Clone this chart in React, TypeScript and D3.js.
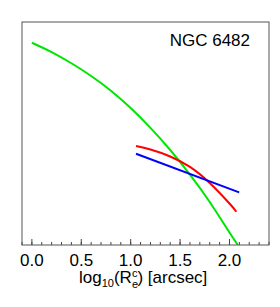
import React from "react";
import * as d3 from "d3";

// y is in arbitrary units (no y axis labels)
const greenX = [0.0, 0.2, 0.4, 0.6, 0.8, 1.0, 1.2, 1.4, 1.6, 1.8, 2.0, 2.085];
const greenY = [9.07, 8.65, 8.15, 7.58, 6.92, 6.14, 5.25, 4.26, 3.16, 1.93, 0.56, 0.0];
const redX = [1.054, 1.2, 1.4, 1.6, 1.8, 2.0, 2.07];
const redY = [4.44, 4.28, 3.97, 3.5, 2.78, 1.86, 1.49];
const blueX = [1.054, 2.098];
const blueY = [4.09, 2.36];
const majorTicks = [0, 0.5, 1.0, 1.5, 2.0];
const minorTicks = d3.range(-0.1, 2.41, 0.1);
const title = "NGC 6482";

const W = 280,
  H = 307;
const margin = { top: 22, right: 11, bottom: 62, left: 22 };
const font = "'Liberation Sans', Arial, Helvetica, sans-serif";

function App() {
  const x = d3
    .scaleLinear()
    .domain([-0.1, 2.4])
    .range([margin.left, W - margin.right]);
  const y = d3
    .scaleLinear()
    .domain([0, 10])
    .range([H - margin.bottom, margin.top]);

  const line = d3
    .line<[number, number]>()
    .x(d => x(d[0]))
    .y(d => y(d[1]))
    .curve(d3.curveNatural);

  const series = [
    { xs: greenX, ys: greenY, color: "#00e600" },
    { xs: redX, ys: redY, color: "#ff0000" },
    { xs: blueX, ys: blueY, color: "#0000ff" }
  ];

  const bottom = H - margin.bottom;

  return (
    <svg
      width={W}
      height={H}
      style={{ position: "absolute", left: 0, top: 0, background: "#fff" }}
    >
      <defs>
        <clipPath id="plot">
          <rect
            x={margin.left}
            y={margin.top}
            width={W - margin.left - margin.right}
            height={bottom - margin.top}
          />
        </clipPath>
      </defs>
      <g clipPath="url(#plot)">
        {series.map((s, i) => (
          <path
            key={i}
            d={line(s.xs.map((v, j) => [v, s.ys[j]] as [number, number])) || ""}
            fill="none"
            stroke={s.color}
            strokeWidth={2}
          />
        ))}
      </g>
      {minorTicks.map((t, i) => (
        <line
          key={"m" + i}
          x1={x(t)}
          x2={x(t)}
          y1={bottom}
          y2={bottom - 3}
          stroke="#444"
        />
      ))}
      {majorTicks.map((t, i) => (
        <g key={"M" + i}>
          <line x1={x(t)} x2={x(t)} y1={bottom} y2={bottom - 6} stroke="#444" />
          <text
            x={x(t)}
            y={266}
            textAnchor="middle"
            fontFamily={font}
            fontSize={17}
            fill="#000"
          >
            {d3.format(".1f")(t)}
          </text>
        </g>
      ))}
      <rect
        x={margin.left}
        y={margin.top}
        width={W - margin.left - margin.right}
        height={bottom - margin.top}
        fill="none"
        stroke="#555"
        strokeWidth={1}
      />
      <text
        x={250}
        y={45.5}
        textAnchor="end"
        fontFamily={font}
        fontSize={17}
        fill="#000"
      >
        {title}
      </text>
      <text x={79} y={283} fontFamily={font} fontSize={17} fill="#000">
        log
        <tspan fontSize={11} dy={4}>10</tspan>
        <tspan dy={-4}>(R</tspan>
        <tspan fontSize={11} dy={5}>e</tspan>
        <tspan fontSize={11} dx={-6.1} dy={-11}>c</tspan>
        <tspan dy={6}>) [arcsec]</tspan>
      </text>
    </svg>
  );
}

export default App;
